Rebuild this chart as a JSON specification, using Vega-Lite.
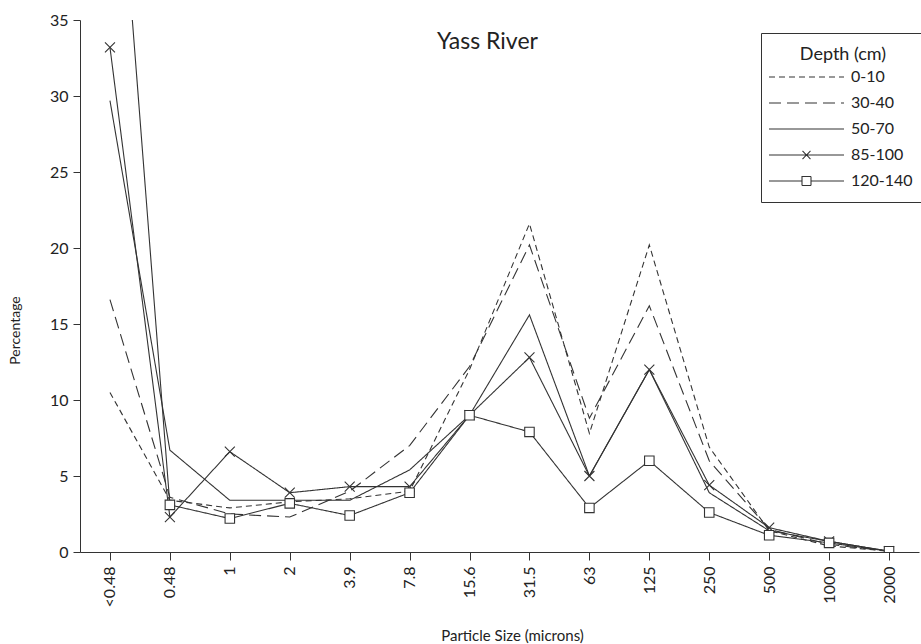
{
  "$schema": "https://vega.github.io/schema/vega-lite/v6.json",
  "width": 839,
  "height": 532,
  "autosize": {"type": "none"},
  "padding": {"left": 80, "top": 20, "right": 2, "bottom": 92},
  "background": "white",
  "config": {"font": "Lato", "view": {"stroke": null}},
  "title": {"text": "Yass River", "fontSize": 23, "fontWeight": "normal", "font": "Lato", "color": "#222", "offset": -42, "dx": -12},
  "data": {"values": [
    {"depth": "0-10", "size": "<0.48", "pct": 10.5},
    {"depth": "0-10", "size": "0.48", "pct": 3.4},
    {"depth": "0-10", "size": "1", "pct": 2.9},
    {"depth": "0-10", "size": "2", "pct": 3.3},
    {"depth": "0-10", "size": "3.9", "pct": 3.5},
    {"depth": "0-10", "size": "7.8", "pct": 4.0},
    {"depth": "0-10", "size": "15.6", "pct": 12.0},
    {"depth": "0-10", "size": "31.5", "pct": 21.6},
    {"depth": "0-10", "size": "63", "pct": 7.8},
    {"depth": "0-10", "size": "125", "pct": 20.2},
    {"depth": "0-10", "size": "250", "pct": 6.9},
    {"depth": "0-10", "size": "500", "pct": 1.4},
    {"depth": "0-10", "size": "1000", "pct": 0.4},
    {"depth": "0-10", "size": "2000", "pct": 0.05},
    {"depth": "30-40", "size": "<0.48", "pct": 16.6},
    {"depth": "30-40", "size": "0.48", "pct": 3.6},
    {"depth": "30-40", "size": "1", "pct": 2.5},
    {"depth": "30-40", "size": "2", "pct": 2.3},
    {"depth": "30-40", "size": "3.9", "pct": 4.0},
    {"depth": "30-40", "size": "7.8", "pct": 7.0},
    {"depth": "30-40", "size": "15.6", "pct": 12.2},
    {"depth": "30-40", "size": "31.5", "pct": 20.2},
    {"depth": "30-40", "size": "63", "pct": 8.8},
    {"depth": "30-40", "size": "125", "pct": 16.2},
    {"depth": "30-40", "size": "250", "pct": 6.0},
    {"depth": "30-40", "size": "500", "pct": 1.5},
    {"depth": "30-40", "size": "1000", "pct": 0.5},
    {"depth": "30-40", "size": "2000", "pct": 0.05},
    {"depth": "50-70", "size": "<0.48", "pct": 29.7},
    {"depth": "50-70", "size": "0.48", "pct": 6.7},
    {"depth": "50-70", "size": "1", "pct": 3.4},
    {"depth": "50-70", "size": "2", "pct": 3.4},
    {"depth": "50-70", "size": "3.9", "pct": 3.4},
    {"depth": "50-70", "size": "7.8", "pct": 5.4},
    {"depth": "50-70", "size": "15.6", "pct": 9.0},
    {"depth": "50-70", "size": "31.5", "pct": 15.6},
    {"depth": "50-70", "size": "63", "pct": 5.0},
    {"depth": "50-70", "size": "125", "pct": 12.0},
    {"depth": "50-70", "size": "250", "pct": 3.9},
    {"depth": "50-70", "size": "500", "pct": 1.4},
    {"depth": "50-70", "size": "1000", "pct": 0.7},
    {"depth": "50-70", "size": "2000", "pct": 0.05},
    {"depth": "85-100", "size": "<0.48", "pct": 33.2},
    {"depth": "85-100", "size": "0.48", "pct": 2.3},
    {"depth": "85-100", "size": "1", "pct": 6.6},
    {"depth": "85-100", "size": "2", "pct": 3.9},
    {"depth": "85-100", "size": "3.9", "pct": 4.3},
    {"depth": "85-100", "size": "7.8", "pct": 4.3},
    {"depth": "85-100", "size": "15.6", "pct": 9.0},
    {"depth": "85-100", "size": "31.5", "pct": 12.8},
    {"depth": "85-100", "size": "63", "pct": 5.0},
    {"depth": "85-100", "size": "125", "pct": 12.0},
    {"depth": "85-100", "size": "250", "pct": 4.4},
    {"depth": "85-100", "size": "500", "pct": 1.6},
    {"depth": "85-100", "size": "1000", "pct": 0.7},
    {"depth": "85-100", "size": "2000", "pct": 0.05},
    {"depth": "120-140", "size": "<0.48", "pct": 54},
    {"depth": "120-140", "size": "0.48", "pct": 3.1},
    {"depth": "120-140", "size": "1", "pct": 2.2},
    {"depth": "120-140", "size": "2", "pct": 3.2},
    {"depth": "120-140", "size": "3.9", "pct": 2.4},
    {"depth": "120-140", "size": "7.8", "pct": 3.9},
    {"depth": "120-140", "size": "15.6", "pct": 9.0},
    {"depth": "120-140", "size": "31.5", "pct": 7.9},
    {"depth": "120-140", "size": "63", "pct": 2.9},
    {"depth": "120-140", "size": "125", "pct": 6.0},
    {"depth": "120-140", "size": "250", "pct": 2.6},
    {"depth": "120-140", "size": "500", "pct": 1.1},
    {"depth": "120-140", "size": "1000", "pct": 0.6},
    {"depth": "120-140", "size": "2000", "pct": 0.05}
  ]},
  "encoding": {
    "x": {
      "field": "size", "type": "ordinal",
      "sort": ["<0.48", "0.48", "1", "2", "3.9", "7.8", "15.6", "31.5", "63", "125", "250", "500", "1000", "2000"],
      "scale": {"type": "point", "padding": 0.5},
      "axis": {
        "title": "Particle Size (microns)", "titleFontSize": 15, "titleFontWeight": "normal", "titleColor": "#222", "titleX": 432, "titlePadding": 22,
        "labelAngle": -90, "labelFontSize": 16, "labelColor": "#222", "labelPadding": 6,
        "tickSize": 8, "tickColor": "#333", "domainColor": "#333", "grid": false
      }
    },
    "y": {
      "field": "pct", "type": "quantitative",
      "scale": {"domain": [0, 35], "nice": false},
      "axis": {
        "title": "Percentage", "titleFontSize": 14, "titleFontWeight": "normal", "titleColor": "#222", "titleX": -58, "titleY": 310,
        "values": [0, 5, 10, 15, 20, 25, 30, 35], "labelFontSize": 16, "labelColor": "#222", "labelPadding": 5,
        "tickSize": 7, "tickColor": "#333", "domainColor": "#333", "grid": false
      }
    }
  },
  "layer": [
    {
      "mark": {"type": "line", "clip": true, "color": "#333", "strokeWidth": 1.1},
      "encoding": {
        "strokeDash": {
          "field": "depth", "type": "nominal",
          "scale": {"domain": ["0-10", "30-40", "50-70", "85-100", "120-140"], "range": [[6, 4], [12, 6], [1, 0], [1, 0], [1, 0]]},
          "legend": {
            "title": "Depth (cm)", "orient": "none", "legendX": 681, "legendY": 13,
            "titleFontSize": 18, "titleFontWeight": "normal", "titleColor": "#222", "titleAnchor": "middle", "titlePadding": 5,
            "labelFontSize": 16, "labelColor": "#222", "labelOffset": 61,
            "symbolSize": 100, "symbolStrokeWidth": 1.1, "symbolStrokeColor": "#333", "symbolType": "stroke",
            "rowPadding": 10, "padding": 13, "strokeColor": "#333", "fillColor": "white",
            "encode": {"symbols": {"update": {"shape": {"signal": "datum.value === '85-100' ? 'M-2.6,0H12.4M4.1,-0.8L5.7,0.8M4.1,0.8L5.7,-0.8' : (datum.value === '120-140' ? 'M-2.6,0H4M5.8,0H12.4M4,-0.9H5.8V0.9H4Z' : 'M-2.6,0H12.4')"}}}}
          }
        }
      }
    },
    {
      "transform": [{"filter": "datum.depth === '85-100'"}],
      "mark": {"type": "point", "shape": "M-1,-1L1,1M-1,1L1,-1", "size": 100, "filled": false, "stroke": "#333", "strokeWidth": 1.1, "opacity": 1, "clip": true}
    },
    {
      "transform": [{"filter": "datum.depth === '120-140'"}],
      "mark": {"type": "point", "shape": "square", "size": 90, "filled": true, "fill": "white", "stroke": "#333", "strokeWidth": 1.1, "opacity": 1, "clip": true}
    }
  ]
}
